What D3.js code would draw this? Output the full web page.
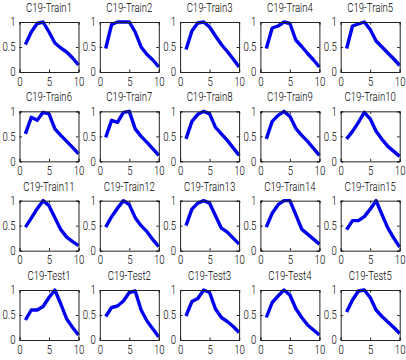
<!DOCTYPE html>
<html><head><meta charset="utf-8">
<script src="https://cdn.jsdelivr.net/npm/d3@7"></script>
<style>body{margin:0;background:#fff}svg{display:block}
text{font-family:Roboto,"Liberation Sans",Arial,sans-serif;font-weight:300;fill:#000}</style>
</head><body><svg id="c" width="406" height="360"></svg>
<script>
const titles = ["C19-Train1","C19-Train2","C19-Train3","C19-Train4","C19-Train5",
"C19-Train6","C19-Train7","C19-Train8","C19-Train9","C19-Train10",
"C19-Train11","C19-Train12","C19-Train13","C19-Train14","C19-Train15",
"C19-Test1","C19-Test2","C19-Test3","C19-Test4","C19-Test5"];
const xValues = [1,2,3,4,5,6,7,8,9,10];
const train1 = [0.55,0.8,0.97,1.0,0.8,0.58,0.48,0.4,0.28,0.14];
const train2 = [0.47,0.95,1.0,1.0,1.0,0.8,0.5,0.35,0.24,0.1];
const train3 = [0.45,0.82,0.98,1.0,0.9,0.72,0.55,0.41,0.26,0.1];
const train4 = [0.47,0.88,0.92,1.0,0.97,0.64,0.51,0.37,0.24,0.1];
const train5 = [0.47,0.92,0.96,1.0,0.85,0.62,0.5,0.38,0.26,0.13];
const train6 = [0.55,0.88,0.82,0.98,0.95,0.65,0.52,0.4,0.28,0.15];
const train7 = [0.48,0.82,0.78,0.98,1.0,0.65,0.5,0.38,0.25,0.12];
const train8 = [0.45,0.8,0.94,1.0,0.95,0.68,0.55,0.42,0.27,0.12];
const train9 = [0.45,0.8,0.92,1.0,0.9,0.66,0.52,0.4,0.26,0.12];
const train10 = [0.45,0.6,0.78,0.98,0.85,0.6,0.44,0.3,0.2,0.1];
const train11 = [0.47,0.65,0.84,1.0,0.9,0.66,0.42,0.27,0.18,0.1];
const train12 = [0.47,0.68,0.85,1.0,0.92,0.66,0.5,0.38,0.22,0.08];
const train13 = [0.5,0.83,0.95,1.0,0.95,0.7,0.45,0.37,0.25,0.13];
const train14 = [0.47,0.75,0.92,1.0,1.0,0.72,0.43,0.33,0.23,0.13];
const train15 = [0.42,0.6,0.6,0.68,0.83,1.0,0.72,0.45,0.25,0.07];
const test1 = [0.4,0.6,0.6,0.67,0.85,1.0,0.72,0.42,0.25,0.1];
const test2 = [0.47,0.65,0.68,0.78,0.95,0.98,0.6,0.38,0.22,0.06];
const test3 = [0.48,0.77,0.83,1.0,0.95,0.62,0.45,0.37,0.27,0.15];
const test4 = [0.45,0.75,0.88,1.0,0.9,0.63,0.45,0.3,0.2,0.1];
const test5 = [0.56,0.8,0.98,1.0,0.85,0.6,0.47,0.36,0.25,0.13];
const series = [train1,train2,train3,train4,train5,train6,train7,train8,train9,train10,
train11,train12,train13,train14,train15,test1,test2,test3,test4,test5];
const xTicks = [0,5,10];
const yTicks = [0,0.5,1];
const yTickLabels = ["0","0.5","1"];

const svg = d3.select("#c");
const W = 59, H = 50;
const SX = 0.8;
const colPos = d3.scaleLinear().domain([0,4]).range([19.5, 340.7]);
const rowPos = d3.scaleLinear().domain([0,3]).range([22, 290]);
const x = d3.scaleLinear().domain([0,10]).range([0,W]);
const y = d3.scaleLinear().domain([0,1]).range([H,0]);
const line = d3.line().x((d,i)=>x(xValues[i])).y(d=>y(d));

series.forEach((vals, k) => {
  const c = k % 5, r = Math.floor(k/5);
  const g = svg.append("g").attr("transform", `translate(${colPos(c)},${rowPos(r)})`);
  g.append("path").datum(vals).attr("d", line).attr("fill","none")
    .attr("stroke","#0000f0").attr("stroke-width",3.4).attr("stroke-linejoin","round");
  const ax = g.append("g").attr("transform",`translate(0,${H})`)
    .call(d3.axisBottom(x).tickValues(xTicks).tickSize(-2.5).tickPadding(5).tickFormat(d3.format("d")));
  const axT = g.append("g")
    .call(d3.axisTop(x).tickValues(xTicks).tickSize(-2.5).tickFormat(""));
  const ay = g.append("g")
    .call(d3.axisLeft(y).tickValues(yTicks).tickSize(-2.5).tickPadding(5).tickFormat((d,i)=>yTickLabels[i]));
  const ayR = g.append("g").attr("transform",`translate(${W},0)`)
    .call(d3.axisRight(y).tickValues(yTicks).tickSize(-2.5).tickFormat(""));
  [ax,axT,ay,ayR].forEach(a=>{
    a.selectAll(".domain").attr("stroke","#222").attr("stroke-width",1);
    a.selectAll(".tick line").attr("stroke","#222");
    a.selectAll("text").attr("font-family",null).style("font-size","12px")
      .attr("fill","#000").attr("transform",`scale(${SX},1)`);
  });
  g.append("text").attr("transform",`translate(${W/2},-10) scale(${SX},1)`)
    .attr("text-anchor","middle").style("font-size","12px").text(titles[k]);
});
</script></body></html>
